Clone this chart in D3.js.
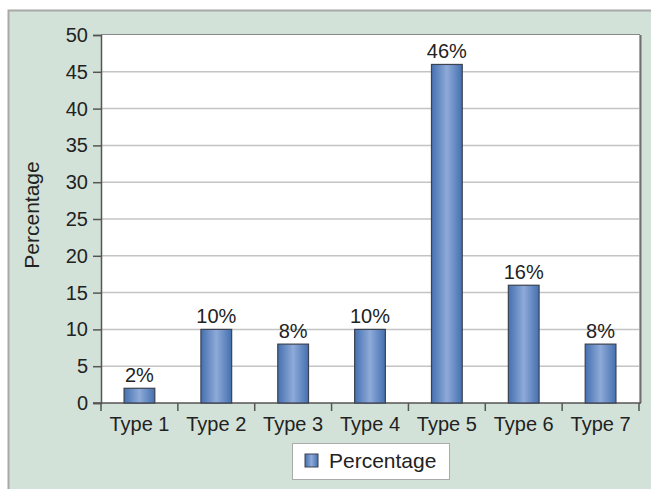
<!DOCTYPE html>
<html>
<head>
<meta charset="utf-8">
<script src="https://cdn.jsdelivr.net/npm/d3@7"></script>
<style>
body { margin: 0; background: #fff; }
text { font-family: "Liberation Sans", Arial, sans-serif; fill: #222; }
</style>
</head>
<body>
<script>
var categories = ["Type 1", "Type 2", "Type 3", "Type 4", "Type 5", "Type 6", "Type 7"];
var percentages = [2, 10, 8, 10, 46, 16, 8];
var yTicks = [0, 5, 10, 15, 20, 25, 30, 35, 40, 45, 50];
var seriesName = "Percentage";

var W = 651, H = 489;
var margin = {top: 35, right: 12, bottom: 86, left: 101};
var width = 639 - margin.left;
var height = 403 - margin.top;

var root = d3.select("body").append("svg")
	.attr("width", W)
	.attr("height", H);

var defs = root.append("defs");
var grad = defs.append("linearGradient").attr("id", "barGrad")
	.attr("x1", "0%").attr("x2", "100%").attr("y1", "0%").attr("y2", "0%");
grad.append("stop").attr("offset", "0%").attr("stop-color", "#4470b0");
grad.append("stop").attr("offset", "50%").attr("stop-color", "#8eaad8");
grad.append("stop").attr("offset", "100%").attr("stop-color", "#4470b0");

// outer panel
root.append("rect")
	.attr("x", 8.5).attr("y", 10.5)
	.attr("width", W).attr("height", H)
	.attr("fill", "#d3e2d8")
	.attr("stroke", "#a8a8a8")
	.attr("stroke-width", 2);

var svg = root.append("g")
	.attr("transform", "translate(" + margin.left + "," + margin.top + ")");

var x = d3.scaleBand().domain(categories).range([0, width]).paddingInner(0.6).paddingOuter(0.3);
var xTick = d3.scaleLinear().domain([0, categories.length]).range([0, width]);
var y = d3.scaleLinear().domain([0, 50]).range([height, 0]);

// plot area
svg.append("rect")
	.attr("x", 0).attr("y", 0)
	.attr("width", width).attr("height", height)
	.attr("fill", "#fff");
// shadow on right edge
svg.append("line")
	.attr("x1", width + 1.5).attr("x2", width + 1.5)
	.attr("y1", 0).attr("y2", height)
	.attr("stroke", "#6f6f6f").attr("stroke-width", 2);
svg.append("line")
	.attr("x1", 0).attr("x2", width + 1)
	.attr("y1", -0.5).attr("y2", -0.5)
	.attr("stroke", "#888").attr("stroke-width", 1.2);

// gridlines
svg.selectAll(".grid").data(yTicks.filter(function(d){ return d > 0 && d < 50; }))
	.enter().append("line")
	.attr("class", "grid")
	.attr("x1", 0).attr("x2", width)
	.attr("y1", function(d){ return y(d); })
	.attr("y2", function(d){ return y(d); })
	.attr("stroke", "#c4c4c4").attr("stroke-width", 1.5);

// y axis
var yAxis = d3.axisLeft(y).tickValues(yTicks).tickSize(8).tickPadding(5);
var gy = svg.append("g").call(yAxis);
gy.attr("font-size", null).attr("font-family", null);
gy.select(".domain").attr("stroke", "#555").attr("stroke-width", 1.5);
gy.selectAll(".tick line").attr("stroke", "#555").attr("stroke-width", 1.5);
gy.selectAll("text").style("font-size", "20px").attr("fill", "#222");

// x axis
var gx = svg.append("g").attr("transform", "translate(0," + height + ")");
gx.append("line").attr("x1", -8).attr("x2", width + 2)
	.attr("y1", 0).attr("y2", 0)
	.attr("stroke", "#555").attr("stroke-width", 1.5);
gx.selectAll(".xt").data(d3.range(categories.length + 1))
	.enter().append("line")
	.attr("x1", function(d){ return xTick(d); })
	.attr("x2", function(d){ return xTick(d); })
	.attr("y1", 0).attr("y2", 8)
	.attr("stroke", "#555").attr("stroke-width", 1.5);
gx.selectAll(".xl").data(categories)
	.enter().append("text")
	.attr("x", function(d){ return x(d) + x.bandwidth() / 2; })
	.attr("y", 28)
	.attr("text-anchor", "middle")
	.style("font-size", "20px")
	.text(function(d){ return d; });

// bars
svg.selectAll(".bar").data(percentages)
	.enter().append("rect")
	.attr("class", "bar")
	.attr("x", function(d, i){ return x(categories[i]); })
	.attr("y", function(d){ return y(d); })
	.attr("width", x.bandwidth())
	.attr("height", function(d){ return height - y(d); })
	.attr("fill", "url(#barGrad)")
	.attr("stroke", "#3c4250").attr("stroke-width", 1.2);

svg.selectAll(".lbl").data(percentages)
	.enter().append("text")
	.attr("x", function(d, i){ return x(categories[i]) + x.bandwidth() / 2; })
	.attr("y", function(d){ return y(d) - 6; })
	.attr("text-anchor", "middle")
	.style("font-size", "20px")
	.text(function(d){ return d + "%"; });

// y title
root.append("text")
	.attr("transform", "translate(39,215) rotate(-90)")
	.attr("text-anchor", "middle")
	.style("font-size", "21px")
	.text(seriesName);

// legend
var lg = root.append("g").attr("transform", "translate(292,443)");
lg.append("rect").attr("x", 0.5).attr("y", 0.5).attr("width", 157).attr("height", 36)
	.attr("fill", "#fff").attr("stroke", "#aaa").attr("stroke-width", 1);
lg.append("rect").attr("x", 13).attr("y", 11).attr("width", 13).attr("height", 13)
	.attr("fill", "url(#barGrad)").attr("stroke", "#3c4250").attr("stroke-width", 1);
lg.append("text").attr("x", 37).attr("y", 25).style("font-size", "21px").text(seriesName);
</script>
</body>
</html>
